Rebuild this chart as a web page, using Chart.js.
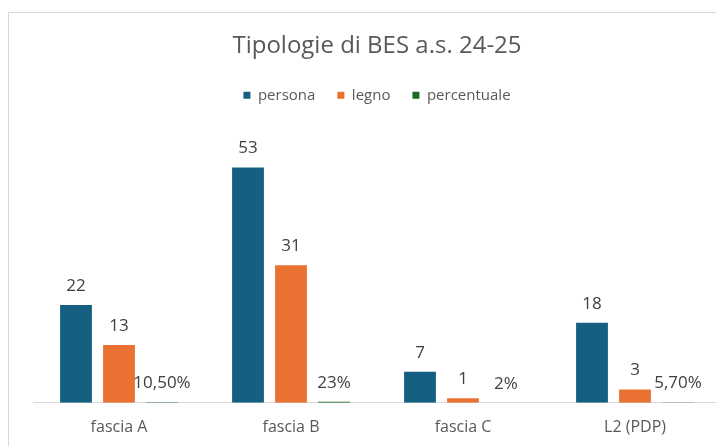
<!DOCTYPE html>
<html>
<head>
<meta charset="utf-8">
<script src="https://cdn.jsdelivr.net/npm/chart.js@4/dist/chart.umd.min.js"></script>
<style>
  html, body { margin: 0; padding: 0; width: 716px; height: 446px; overflow: hidden; background: #fff; }
  #box { position: absolute; left: 8px; top: 12px; width: 730px; height: 446px; border-left: 1px solid #d9d9d9; border-top: 1px solid #d9d9d9; }
  #wrap { position: absolute; left: 0; top: 0; width: 720px; height: 440px; }
</style>
</head>
<body>
<div id="box"><div id="wrap"><canvas id="chart"></canvas></div></div>
<script>
// ── Data ─────────────────────────────────────────────────────────────────────

const categories    = ['fascia A', 'fascia B', 'fascia C', 'L2 (PDP)'];
const persona       = [22, 53, 7, 18];
const legno         = [13, 31, 1, 3];
const percentuale   = [0.105, 0.23, 0.02, 0.057];
const percentLabels = ['10,50%', '23%', '2%', '5,70%'];

const FONT = "'Open Sans', 'Noto Sans', sans-serif";

// ── Value labels ─────────────────────────────────────────────────────────────

const valueLabels = {
  id: 'valueLabels',
  afterDatasetsDraw(chart) {
    const ctx = chart.ctx;
    ctx.save();
    ctx.font = `17px ${FONT}`;
    ctx.fillStyle = '#404040';
    ctx.textAlign = 'center';
    ctx.textBaseline = 'middle';
    chart.data.datasets.forEach((ds, i) => {
      chart.getDatasetMeta(i).data.forEach((bar, j) => {
        const txt = ds.labels ? ds.labels[j] : String(ds.data[j]);
        ctx.fillText(txt, bar.x, bar.y - 19);
      });
    });
    ctx.restore();
  }
};

// ── Chart ────────────────────────────────────────────────────────────────────

new Chart(document.getElementById('chart'), {
  type: 'bar',
  data: {
    labels: categories,
    datasets: [
      { label: 'persona',     data: persona,     backgroundColor: '#156082' },
      { label: 'legno',       data: legno,       backgroundColor: '#E97132' },
      { label: 'percentuale', data: percentuale, backgroundColor: '#196B24', labels: percentLabels }
    ]
  },
  options: {
    responsive: true,
    maintainAspectRatio: false,
    animation: false,
    datasets: { bar: { categoryPercentage: 0.75, barPercentage: 0.74 } },
    layout: { padding: { left: 24, right: 8, top: 0, bottom: 9 } },
    plugins: {
      title: {
        display: true,
        text: 'Tipologie di BES a.s. 24-25',
        color: '#595959',
        font: { family: FONT, size: 24, weight: 'normal' },
        padding: { top: 19, bottom: 5 }
      },
      legend: {
        position: 'top',
        labels: { boxWidth: 7, boxHeight: 7, color: '#595959', font: { family: FONT, size: 15 }, padding: 22 }
      },
      tooltip: { enabled: false }
    },
    scales: {
      x: {
        grid: { display: false },
        border: { color: '#d9d9d9' },
        ticks: { color: '#595959', font: { family: FONT, size: 16 }, padding: 7 }
      },
      y: { display: false, min: 0, max: 65.3 }
    }
  },
  plugins: [valueLabels]
});
</script>
</body>
</html>
